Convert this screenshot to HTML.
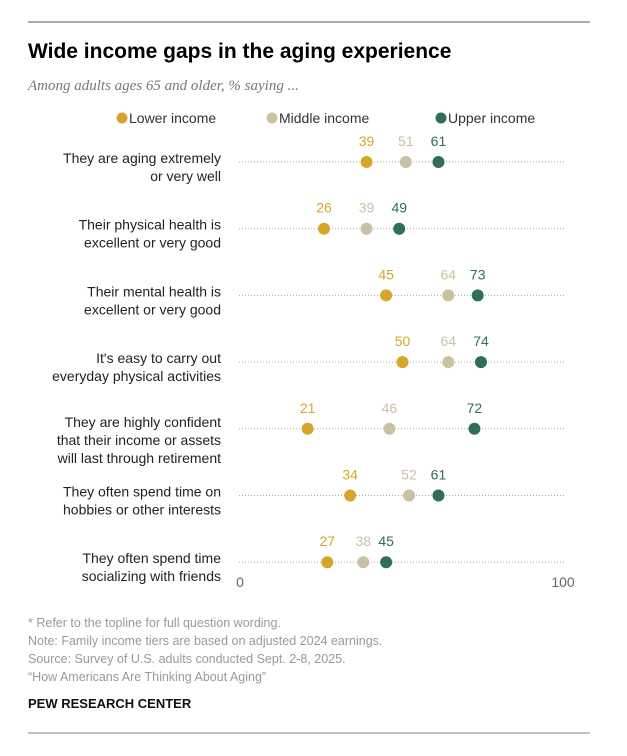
<!DOCTYPE html>
<html><head><meta charset="utf-8"><style>
body{margin:0;background:#fff;width:627px;height:751px;overflow:hidden;font-family:"Liberation Sans",sans-serif;}
</style></head><body>
<svg width="627" height="751" xmlns="http://www.w3.org/2000/svg" id="svg">
<line x1="28" y1="22" x2="590" y2="22" stroke="#aaa" stroke-width="2"/>
<text x="28" y="58" font-size="21" font-weight="bold" fill="#000">Wide income gaps in the aging experience</text>
<text x="28" y="90" font-size="15" font-style="italic" fill="#777" font-family="Liberation Serif, serif">Among adults ages 65 and older, % saying ...</text>
<g font-size="14" fill="#333">
<g><circle cx="122" cy="118" r="5.5" fill="#d6a62b"/><text x="129" y="123">Lower income</text></g>
<g><circle cx="272" cy="118" r="5.5" fill="#c9c1a4"/><text x="279" y="123">Middle income</text></g>
<g><circle cx="441" cy="118" r="5.5" fill="#2f6e5d"/><text x="448" y="123">Upper income</text></g>
</g>
<g id="rows"></g>
<text x="240" y="587" font-size="14" fill="#666" text-anchor="middle">0</text>
<text x="563" y="587" font-size="14" fill="#666" text-anchor="middle">100</text>
<g font-size="12.5" fill="#999">
<text x="28" y="627">* Refer to the topline for full question wording.</text>
<text x="28" y="645">Note: Family income tiers are based on adjusted 2024 earnings.</text>
<text x="28" y="663">Source: Survey of U.S. adults conducted Sept. 2-8, 2025.</text>
<text x="28" y="681">“How Americans Are Thinking About Aging”</text>
</g>
<text x="28" y="708" font-size="13" font-weight="bold" fill="#111">PEW RESEARCH CENTER</text>
<line x1="28" y1="733" x2="590" y2="733" stroke="#aaa" stroke-width="1.5"/>
</svg>
<script>
const categories=[["They are aging extremely","or very well"],["Their physical health is","excellent or very good"],["Their mental health is","excellent or very good"],["It's easy to carry out","everyday physical activities"],["They are highly confident","that their income or assets","will last through retirement"],["They often spend time on","hobbies or other interests"],["They often spend time","socializing with friends"]];
const lower=[39,26,45,50,21,34,27];
const middle=[51,39,64,64,46,52,38];
const upper=[61,49,73,74,72,61,45];
const NS="http://www.w3.org/2000/svg";
const x=v=>239+v*3.27;
const y=i=>162+i*66.7;
const g=document.getElementById('rows');
function mk(t,a){const e=document.createElementNS(NS,t);for(const k in a)e.setAttribute(k,a[k]);return e;}
const series=[[lower,'#d6a62b','lower'],[middle,'#c9c1a4','middle'],[upper,'#2f6e5d','upper']];
categories.forEach((c,i)=>{
  const yy=y(i);
  const ln=mk('line',{x1:x(0),x2:x(100),y1:yy,y2:yy,stroke:'#aaa','stroke-width':1,'stroke-dasharray':'1 2'});
  
  
  g.appendChild(ln);
  const n=c.length;
  const start=n==3?yy-2:yy+1;
  c.forEach((s,j)=>{
    const t=mk('text',{x:221,y:start+j*18,'font-size':14,fill:'#222','text-anchor':'end'});
    t.textContent=s;
    
    
    g.appendChild(t);
  });
  series.forEach(([arr,col,nm])=>{
    const d=mk('circle',{cx:x(arr[i]),cy:yy,r:6,fill:col});
    
    
    g.appendChild(d);
    const t=mk('text',{x:x(arr[i]),y:yy-16,'font-size':14,fill:col,'text-anchor':'middle'});
    t.textContent=arr[i];
    
    
    g.appendChild(t);
  });
});
</script>
</body></html>
